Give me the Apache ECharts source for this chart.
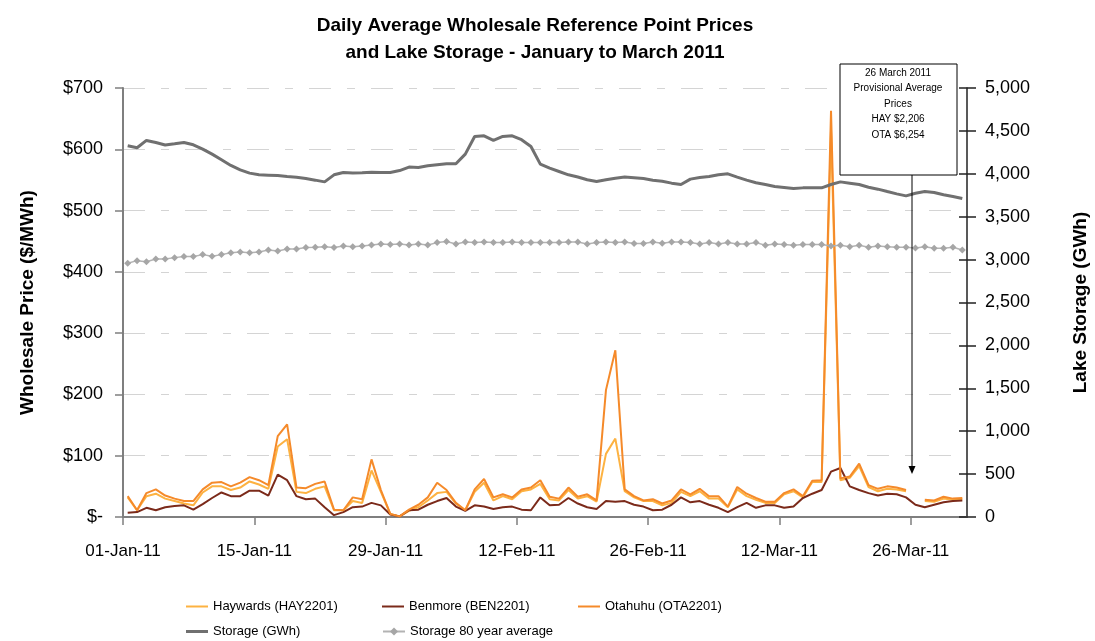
<!DOCTYPE html>
<html>
<head>
<meta charset="utf-8">
<script src="https://cdn.jsdelivr.net/npm/echarts@6/dist/echarts.min.js"></script>
<style>
html, body { margin: 0; padding: 0; background: #fff; }
#chart { width: 1095px; height: 641px; }
</style>
</head>
<body>
<div id="chart"></div>
<script>
// x ticks every 14 days from 01-Jan-11, one point per day (01-Jan .. 31-Mar)
var tickLabels = ['01-Jan-11', '15-Jan-11', '29-Jan-11', '12-Feb-11', '26-Feb-11', '12-Mar-11', '26-Mar-11'];

// $/MWh, 26-Mar provisional prices left out (null)
var haywards = [32, 11, 34, 38, 30, 26, 22, 19, 40, 50, 50, 44, 48, 58, 53, 46, 115, 127, 41, 39,
  46, 50, 11, 11, 26, 23, 76, 41, 5, 1, 10, 16, 27, 39, 41, 22, 11, 41, 56, 27,
  34, 29, 42, 45, 54, 29, 27, 44, 30, 34, 25, 103, 128, 42, 32, 26, 26, 19, 23, 41,
  34, 42, 30, 30, 16, 45, 34, 28, 23, 23, 37, 42, 32, 57, 57, 632, 60, 64, 83, 49,
  42, 46, 45, 42, null, 26, 25, 30, 28, 29];
var benmore = [7, 8, 15, 11, 16, 18, 19, 12, 21, 31, 40, 34, 34, 43, 43, 35, 69, 60, 34, 29,
  30, 16, 3, 8, 16, 17, 23, 19, 4, 1, 11, 12, 20, 26, 31, 17, 10, 19, 17, 13,
  16, 17, 12, 11, 32, 19, 20, 31, 22, 16, 13, 26, 25, 26, 20, 17, 11, 12, 20, 32,
  24, 26, 20, 15, 8, 16, 23, 15, 19, 19, 15, 17, 31, 38, 44, 74, 80, 50, 44, 39,
  35, 38, 37, 32, 20, 16, 20, 24, 26, 27];
var otahuhu = [34, 11, 39, 45, 35, 30, 26, 26, 45, 56, 57, 50, 56, 65, 60, 52, 132, 151, 48, 47,
  54, 58, 12, 11, 32, 29, 94, 44, 5, 1, 12, 20, 32, 56, 44, 23, 11, 45, 62, 32,
  37, 32, 45, 48, 60, 33, 30, 48, 33, 37, 27, 207, 272, 45, 34, 27, 29, 22, 27, 45,
  37, 46, 34, 34, 17, 49, 38, 31, 25, 25, 39, 45, 34, 59, 60, 663, 63, 66, 87, 52,
  46, 50, 48, 44, null, 28, 27, 33, 30, 31];

// GWh
var storage = [4327, 4303, 4389, 4365, 4336, 4350, 4365, 4338, 4288, 4229, 4163, 4097, 4046, 4008, 3988, 3984, 3980, 3969, 3961, 3945,
  3926, 3906, 3988, 4015, 4008, 4011, 4019, 4015, 4015, 4038, 4078, 4074, 4093, 4105, 4117, 4117, 4229, 4435, 4443, 4389,
  4435, 4443, 4397, 4319, 4113, 4066, 4027, 3988, 3962, 3930, 3910, 3930, 3949, 3962, 3955, 3945, 3926, 3914, 3891, 3875,
  3938, 3957, 3969, 3988, 4000, 3962, 3926, 3895, 3875, 3852, 3840, 3828, 3836, 3836, 3836, 3875, 3906, 3891, 3875, 3844,
  3821, 3793, 3766, 3743, 3774, 3793, 3782, 3755, 3735, 3712];
var storageAvg = [2957, 2988, 2976, 3007, 3007, 3023, 3035, 3035, 3058, 3038, 3058, 3081, 3089, 3081, 3089, 3112, 3100, 3124, 3124, 3140,
  3144, 3151, 3140, 3159, 3151, 3159, 3171, 3182, 3175, 3183, 3171, 3183, 3171, 3198, 3210, 3183, 3206, 3198, 3206, 3198,
  3198, 3206, 3198, 3198, 3198, 3198, 3198, 3206, 3206, 3183, 3198, 3206, 3198, 3206, 3187, 3187, 3206, 3190, 3206, 3206,
  3198, 3183, 3198, 3183, 3198, 3183, 3183, 3198, 3167, 3183, 3175, 3167, 3175, 3175, 3175, 3159, 3167, 3151, 3167, 3144,
  3159, 3151, 3144, 3144, 3136, 3151, 3132, 3132, 3144, 3113];

var noteLines = ['26 March 2011', 'Provisional Average', 'Prices', 'HAY $2,206', 'OTA $6,254'];

// each day sits in the middle of its date slot
function pairs(arr) {
  return arr.map(function (v, i) { return [i + 0.5, v == null ? '-' : v]; });
}

var font = 'Liberation Sans, Arial, sans-serif';
var chart = echarts.init(document.getElementById('chart'), null, { renderer: 'canvas' });

function legendAt(name, left, top, plainLine) {
  var l = {
    data: [name], left: left, top: top, itemWidth: 22, itemHeight: 10, padding: 0,
    textStyle: { fontFamily: font, fontSize: 13, color: '#000' }
  };
  if (plainLine) {
    l.icon = 'rect';
    l.itemHeight = plainLine;
  }
  return l;
}

var option = {
  animation: false,
  backgroundColor: '#fff',
  title: {
    text: 'Daily Average Wholesale Reference Point Prices\nand Lake Storage - January to March 2011',
    left: 530, top: 7, textAlign: 'center',
    textStyle: { fontFamily: font, fontSize: 19, fontWeight: 'bold', color: '#000', lineHeight: 27 }
  },
  legend: [
    legendAt('Haywards (HAY2201)', 186, 600, 2),
    legendAt('Benmore (BEN2201)', 382, 600, 2),
    legendAt('Otahuhu (OTA2201)', 578, 600, 2),
    legendAt('Storage (GWh)', 186, 625, 3),
    legendAt('Storage 80 year average', 382, 625)
  ],
  grid: { left: 123, right: 128, top: 88, bottom: 124, outerBoundsMode: 'none' },
  xAxis: {
    type: 'value', min: 0, max: 90, interval: 14,
    axisLine: { lineStyle: { color: '#7f7f7f', width: 2 } },
    axisTick: { length: 8, lineStyle: { color: '#7f7f7f', width: 1.5 } },
    splitLine: { show: false },
    axisLabel: {
      margin: 26, showMaxLabel: false, fontFamily: font, fontSize: 17, color: '#000',
      formatter: function (v) { return tickLabels[Math.round(v / 14)] || ''; }
    }
  },
  yAxis: [{
    type: 'value', min: 0, max: 700, interval: 100,
    name: 'Wholesale Price ($/MWh)', nameLocation: 'middle', nameRotate: 90, nameGap: 86,
    nameTextStyle: { fontFamily: font, fontSize: 19, fontWeight: 'bold', color: '#000' },
    axisLine: { show: true, lineStyle: { color: '#7f7f7f', width: 2 } },
    axisTick: { show: true, length: 8, lineStyle: { color: '#7f7f7f', width: 1.5 } },
    splitLine: { show: true, lineStyle: { color: '#d4d4d4', width: 1, type: [22, 16, 8, 16] } },
    axisLabel: {
      margin: 20, fontFamily: font, fontSize: 18, color: '#000',
      formatter: function (v) { return v === 0 ? '$-' : '$' + v; }
    }
  }, {
    type: 'value', min: 0, max: 5000, interval: 500, position: 'right',
    name: 'Lake Storage (GWh)', nameLocation: 'middle', nameRotate: 90, nameGap: 104,
    nameTextStyle: { fontFamily: font, fontSize: 19, fontWeight: 'bold', color: '#000' },
    axisLine: { show: true, lineStyle: { color: '#222', width: 1.5 } },
    axisTick: { show: true, length: 9, lineStyle: { color: '#222', width: 1.5 } },
    splitLine: { show: false },
    axisLabel: {
      margin: 18, fontFamily: font, fontSize: 18, color: '#000',
      formatter: function (v) { return v.toLocaleString('en-US'); }
    }
  }, {
    // inner half of the crossing ticks on the storage axis
    type: 'value', min: 0, max: 5000, interval: 500, position: 'right',
    axisLine: { show: false },
    axisTick: { show: true, inside: true, length: 8, lineStyle: { color: '#222', width: 1.5 } },
    axisLabel: { show: false },
    splitLine: { show: false }
  }],
  series: [{
    name: 'Haywards (HAY2201)', type: 'line', yAxisIndex: 0, data: pairs(haywards),
    symbol: 'none', lineStyle: { color: '#fdb241', width: 2 }, itemStyle: { color: '#fdb241' }
  }, {
    name: 'Benmore (BEN2201)', type: 'line', yAxisIndex: 0, data: pairs(benmore),
    symbol: 'none', lineStyle: { color: '#7b2a1a', width: 2 }, itemStyle: { color: '#7b2a1a' }
  }, {
    name: 'Otahuhu (OTA2201)', type: 'line', yAxisIndex: 0, data: pairs(otahuhu),
    symbol: 'none', lineStyle: { color: '#f58a2a', width: 2 }, itemStyle: { color: '#f58a2a' }
  }, {
    name: 'Storage (GWh)', type: 'line', yAxisIndex: 1, data: pairs(storage),
    symbol: 'none', lineStyle: { color: '#707070', width: 3 }, itemStyle: { color: '#707070' }
  }, {
    name: 'Storage 80 year average', type: 'line', yAxisIndex: 1, data: pairs(storageAvg),
    symbol: 'diamond', symbolSize: 7, showSymbol: true,
    lineStyle: { color: '#b3b3b3', width: 1.5 }, itemStyle: { color: '#a6a6a6' }
  }],
  graphic: [{
    type: 'rect', shape: { x: 840, y: 64, width: 117, height: 111 },
    style: { fill: '#fff', stroke: '#000', lineWidth: 1 }, z: 100
  }, {
    type: 'text', x: 898, y: 65, z: 101,
    style: {
      text: noteLines.join('\n'), fontFamily: font, fontSize: 10, lineHeight: 15.5,
      fill: '#000', align: 'center', verticalAlign: 'top'
    }
  }, {
    type: 'line', shape: { x1: 912, y1: 175, x2: 912, y2: 467 },
    style: { stroke: '#000', lineWidth: 1 }, z: 100
  }, {
    type: 'polygon', shape: { points: [[908.5, 466], [915.5, 466], [912, 474]] },
    style: { fill: '#000' }, z: 100
  }]
};

chart.setOption(option);
</script>
</body>
</html>
